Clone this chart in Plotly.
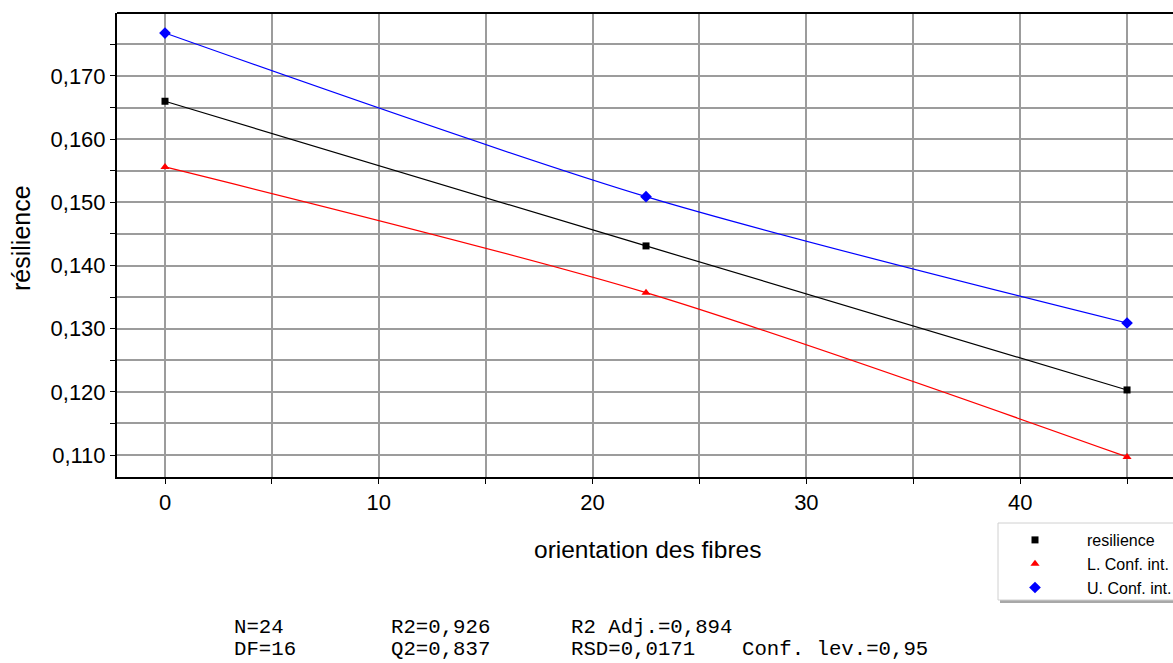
import plotly.graph_objects as go

# Fibre orientation (degrees) and fitted resilience with its confidence bounds
orientation = [0, 22.5, 45]
resilience = [0.1660, 0.1431, 0.1203]
lower_ci = [0.1556, 0.1357, 0.1097]
upper_ci = [0.1768, 0.1509, 0.1309]

series_names = ["resilience", "L. Conf. int.", "U. Conf. int."]
series_colors = ["#000000", "#ff0000", "#0000ff"]
series_symbols = ["square", "triangle-up", "diamond"]
series_sizes = [7, 8, 9]

x_ticks = [0, 5, 10, 15, 20, 25, 30, 35, 40, 45]
x_labels = ["0", "", "10", "", "20", "", "30", "", "40", ""]
y_ticks = [0.110, 0.115, 0.120, 0.125, 0.130, 0.135, 0.140, 0.145,
           0.150, 0.155, 0.160, 0.165, 0.170, 0.175]
y_labels = ["0,110", "", "0,120", "", "0,130", "", "0,140", "",
            "0,150", "", "0,160", "", "0,170", ""]

stats_row1 = [("N=24", 232), ("R2=0,926", 389), ("R2 Adj.=0,894", 569)]
stats_row2 = [("DF=16", 232), ("Q2=0,837", 389), ("RSD=0,0171", 569),
              ("Conf. lev.=0,95", 740)]

W, H = 1173, 663
L, T, B, R = 117, 13, 477, 1173


def px(xp):
    return (xp - L) / (R - L)


def py(yp):
    return (B - yp) / (B - T)


fig = go.Figure()

all_series = [resilience, lower_ci, upper_ci]
for vals, name, col in zip(all_series, series_names, series_colors):
    fig.add_trace(go.Scatter(
        x=orientation, y=vals, mode="lines",
        line=dict(color=col, width=1.2, shape="spline", smoothing=0.8),
        showlegend=False, hoverinfo="skip"))

for vals, name, col, sym, sz in zip(all_series, series_names, series_colors,
                                    series_symbols, series_sizes):
    fig.add_trace(go.Scatter(
        x=orientation, y=vals, mode="markers", name=name,
        marker=dict(color=col, symbol=sym, size=sz, line=dict(width=0))))

mono = "Liberation Mono, Courier New, monospace"
sans = "Liberation Sans, Arial, sans-serif"

annotations = [
    dict(text="orientation des fibres", x=px(647), y=py(549), xref="paper",
         yref="paper", showarrow=False, xanchor="center", yanchor="middle",
         font=dict(family=sans, size=24.5, color="#000")),
    dict(text="résilience", x=px(21), y=py(238), xref="paper", yref="paper",
         showarrow=False, textangle=-90, xanchor="center", yanchor="middle",
         font=dict(family=sans, size=25, color="#000")),
]
# statistics block: each row's box ends at the given pixel line
for row, ybot in ((stats_row1, 641), (stats_row2, 663)):
    for txt, xl in row:
        annotations.append(dict(
            text=txt, x=px(xl), y=py(ybot), xref="paper", yref="paper",
            showarrow=False, xanchor="left", yanchor="bottom",
            font=dict(family=mono, size=20.7, color="#000")))

shapes = [
    # top frame of the plot area
    dict(type="line", xref="paper", yref="paper", x0=0, x1=1, y0=1, y1=1,
         line=dict(color="#000", width=2)),
    # legend box shadow and frame
    dict(type="rect", xref="paper", yref="paper", x0=px(1000), x1=px(1190),
         y0=py(603), y1=py(525), fillcolor="#a8a8a8", line=dict(width=0),
         layer="above"),
    dict(type="rect", xref="paper", yref="paper", x0=px(998), x1=px(1188),
         y0=py(600), y1=py(523), fillcolor="#ffffff",
         line=dict(color="#d0d0d0", width=1), layer="above"),
]

fig.update_layout(
    width=W, height=H,
    margin=dict(l=L, r=W - R, t=T, b=H - B, autoexpand=False),
    paper_bgcolor="#ffffff", plot_bgcolor="#ffffff",
    font=dict(family=sans, color="#000"),
    annotations=annotations, shapes=shapes,
    legend=dict(x=px(983), y=py(523), xanchor="left", yanchor="top",
                bgcolor="rgba(0,0,0,0)", borderwidth=0, itemwidth=94,
                font=dict(family=sans, size=16, color="#000")),
    xaxis=dict(range=[-2.245, 47.15], tickvals=x_ticks, ticktext=x_labels,
               showgrid=True, gridcolor="#9c9c9c", gridwidth=1.5,
               zeroline=False, showline=True, linecolor="#000", linewidth=2,
               ticks="outside", ticklen=5, tickcolor="#000", tickwidth=1,
               tickfont=dict(family=sans, size=22, color="#000")),
    yaxis=dict(range=[0.10652, 0.17997], tickvals=y_ticks, ticktext=y_labels,
               showgrid=True, gridcolor="#9c9c9c", gridwidth=1.5,
               zeroline=False, showline=True, linecolor="#000", linewidth=2,
               ticks="outside", ticklen=5, tickcolor="#000", tickwidth=1,
               tickfont=dict(family=sans, size=22, color="#000")),
)

fig.write_html("out.html")
